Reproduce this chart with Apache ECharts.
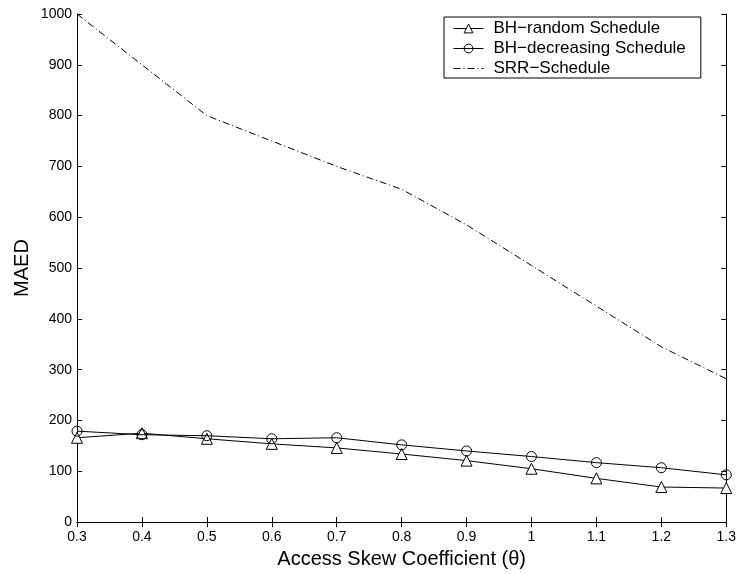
<!DOCTYPE html>
<html>
<head>
<meta charset="utf-8">
<script src="https://cdn.jsdelivr.net/npm/echarts@6/dist/echarts.min.js"></script>
<style>
html,body{margin:0;padding:0;background:#fff;}
#chart{width:739px;height:574px;}
</style>
</head>
<body>
<div id="chart"></div>
<script>
const categories = ['0.3','0.4','0.5','0.6','0.7','0.8','0.9','1','1.1','1.2','1.3'];
const bhRandom = [166, 175, 164, 154, 146, 134, 121, 105, 86, 69, 67];
const bhDecreasing = [179, 172, 170, 164, 166, 152, 140, 129, 117, 107, 93];
const srrSchedule = [1000, 900, 800, 750, 700, 655, 585, 505, 425, 345, 282];
const yTicks = [0, 100, 200, 300, 400, 500, 600, 700, 800, 900, 1000];
const seriesNames = ['BH\u2212random Schedule', 'BH\u2212decreasing Schedule', 'SRR\u2212Schedule'];

const FONT = '"Liberation Sans", Arial, Helvetica, sans-serif';
const chart = echarts.init(document.getElementById('chart'), null, {renderer: 'canvas'});

const axisCommon = {
  axisLine: {show: true, lineStyle: {color: '#000', width: 1}},
  axisTick: {show: true, inside: true, length: 5, lineStyle: {color: '#000', width: 1}},
  splitLine: {show: false}
};

chart.setOption({
  backgroundColor: '#fff',
  animation: false,
  textStyle: {fontFamily: FONT, color: '#000'},
  grid: {left: 77, right: 11, top: 14, bottom: 47, containLabel: false},
  legend: {
    orient: 'vertical',
    left: 444,
    top: 17,
    data: [
      {name: seriesNames[0]},
      {name: seriesNames[1]},
      {name: seriesNames[2], itemStyle: {color: 'rgba(0,0,0,0)', borderWidth: 0, opacity: 0}}
    ],
    itemWidth: 30,
    itemHeight: 11,
    itemGap: 3,
    padding: [3, 15, 1, 9],
    borderColor: '#000',
    borderWidth: 1,
    backgroundColor: '#fff',
    itemStyle: {borderWidth: 1},
    lineStyle: {width: 1},
    textStyle: {fontFamily: FONT, fontSize: 17, color: '#000', padding: [0, 0, 0, 5]}
  },
  xAxis: [
    Object.assign({
      type: 'category',
      data: categories,
      boundaryGap: false,
      position: 'bottom',
      name: 'Access Skew Coefficient (\u03b8)',
      nameLocation: 'middle',
      nameGap: 21,
      nameTextStyle: {fontFamily: FONT, fontSize: 20, color: '#000'},
      axisLabel: {fontFamily: FONT, fontSize: 14, color: '#000', margin: 8, interval: 0}
    }, axisCommon),
    Object.assign({
      type: 'category',
      data: categories,
      boundaryGap: false,
      position: 'top',
      axisLabel: {show: false}
    }, axisCommon)
  ],
  yAxis: [
    Object.assign({
      type: 'value',
      min: yTicks[0],
      max: yTicks[yTicks.length - 1],
      interval: 100,
      position: 'left',
      name: 'MAED',
      nameLocation: 'middle',
      nameGap: 45,
      nameMoveOverlap: false,
      nameTextStyle: {fontFamily: FONT, fontSize: 20, color: '#000'},
      axisLabel: {fontFamily: FONT, fontSize: 14, color: '#000', margin: 5, formatter: function (v) { return String(v); }}
    }, axisCommon),
    Object.assign({
      type: 'value',
      min: yTicks[0],
      max: yTicks[yTicks.length - 1],
      interval: 100,
      position: 'right',
      axisLabel: {show: false}
    }, axisCommon)
  ],
  series: [
    {
      name: seriesNames[0],
      type: 'line',
      data: bhRandom,
      symbol: 'triangle',
      symbolSize: 11,
      lineStyle: {color: '#000', width: 1},
      itemStyle: {color: '#fff', borderColor: '#000', borderWidth: 1},
      z: 3
    },
    {
      name: seriesNames[1],
      type: 'line',
      data: bhDecreasing,
      symbol: 'circle',
      symbolSize: 10,
      lineStyle: {color: '#000', width: 1},
      itemStyle: {color: 'rgba(255,255,255,0)', borderColor: '#000', borderWidth: 1},
      z: 4
    },
    {
      name: seriesNames[2],
      type: 'line',
      data: srrSchedule,
      symbol: 'none',
      lineStyle: {color: '#000', width: 1, type: [7, 3, 1, 3]},
      itemStyle: {color: '#000'},
      z: 2
    }
  ]
});
</script>
</body>
</html>
